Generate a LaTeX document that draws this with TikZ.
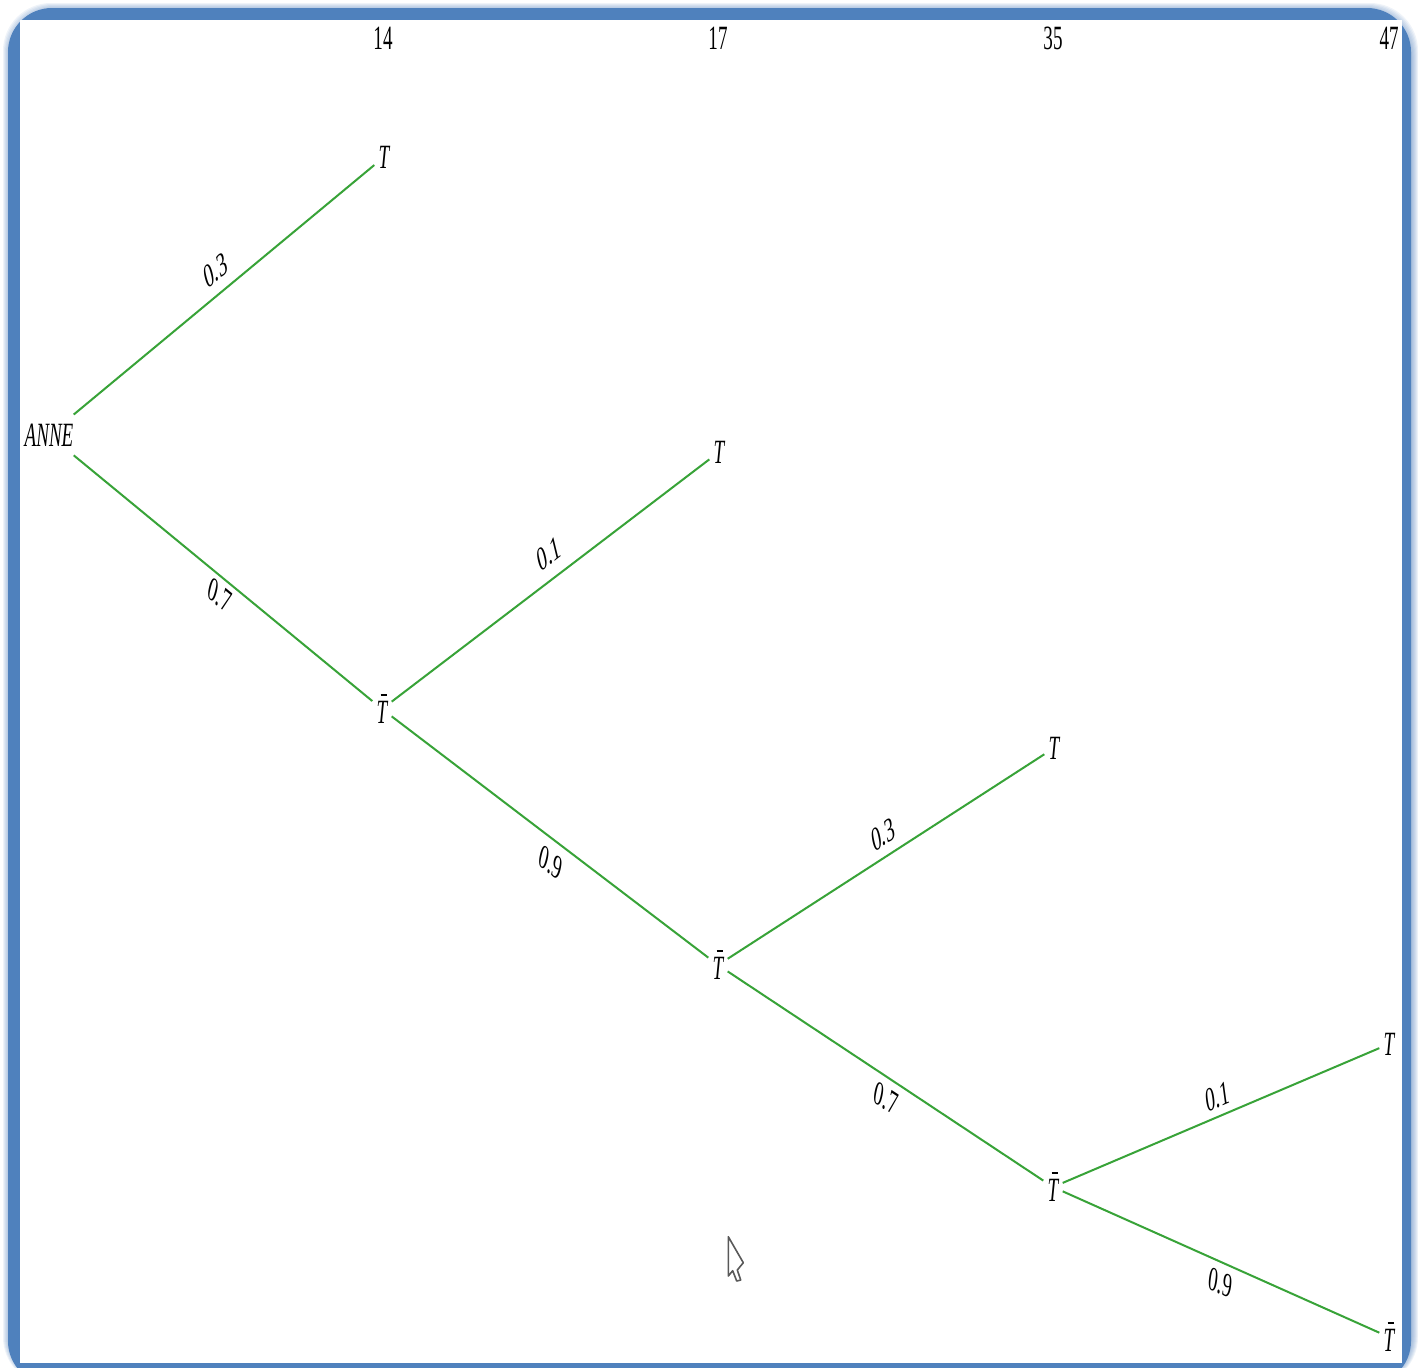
\documentclass[tikz,border=0pt]{standalone}
\usepackage{fontspec}
\setmainfont{Liberation Serif}
\usepackage{graphicx}
\definecolor{frameblue}{RGB}{79,129,189}
\definecolor{branchgreen}{RGB}{56,163,56}
\newcommand\sq[1]{\scalebox{0.56}[1]{#1}}
\newcommand\tbar{\sq{\itshape\rlap{\kern0.2em\raisebox{0.82em}{\rule{0.32em}{0.06em}}}T}}
\newcommand\tletter{\sq{\itshape T}}
\begin{document}
\begin{tikzpicture}[x=0.5pt,y=-0.5pt,
  txt/.style={inner sep=2pt, font=\fontsize{17pt}{20pt}\selectfont},
  branch/.style={draw=branchgreen, line width=1pt},
  lab/.style={midway, anchor=center, inner sep=0pt, font=\fontsize{9.5pt}{11pt}\selectfont}]
\useasboundingbox (0,0) rectangle (1418,1367);
\fill[white] (0,0) rectangle (1418,1367);
% frame with glow
\foreach \i in {1,...,7}{
  \fill[frameblue, opacity=0.09, rounded corners=24] (10-\i,10-\i) rectangle (1411+\i,1385);
}
\fill[frameblue, rounded corners=22] (8,8) rectangle (1411,1385);
\fill[white] (20,20) rectangle (1402,1363);
% headers
\node[txt] (h14) at (383,38) {\sq{14}};
\node[txt] (h17) at (718,38) {\sq{17}};
\node[txt] (h35) at (1053,38) {\sq{35}};
\node[txt] (h47) at (1389,38) {\sq{47}};
% tree nodes
\node[txt, inner xsep=0pt, inner ysep=5pt] (anne) at (49,435) {\sq{\itshape ANNE}};
\node[txt] (t1) at (384,157) {\tletter};
\node[txt] (b1) at (382,709) {\tbar};
\node[txt] (t2) at (719,452) {\tletter};
\node[txt] (b2) at (718,965) {\tbar};
\node[txt] (t3) at (1054,748) {\tletter};
\node[txt] (b3) at (1053,1187) {\tbar};
\node[txt] (t4) at (1389,1044) {\tletter};
\node[txt] (b4) at (1389,1337) {\tbar};
% branches with sheared labels
\draw[branch] (anne) -- node[lab, xshift=-4.25pt, yshift=9.75pt, yscale=1.79, rotate=24.9] (p1) {0.3} (t1);
\draw[branch] (anne) -- node[lab, xshift=-1.75pt, yshift=-8.75pt, yscale=1.79, rotate=-24.6] (p2) {0.7} (b1);
\draw[branch] (b1) -- node[lab, xshift=-0.75pt, yshift=13.25pt, yscale=1.79, rotate=23.6] (p3) {0.1} (t2);
\draw[branch] (b1) -- node[lab, xshift=0.5pt, yshift=-13pt, yscale=1.79, rotate=-22.8] (p4) {0.9} (b2);
\draw[branch] (b2) -- node[lab, xshift=-1.5pt, yshift=11pt, yscale=1.79, rotate=20.2] (p5) {0.3} (t3);
\draw[branch] (b2) -- node[lab, xshift=0.25pt, yshift=-11.25pt, yscale=1.79, rotate=-20.1] (p6) {0.7} (b3);
\draw[branch] (b3) -- node[lab, xshift=-1.75pt, yshift=9.5pt, yscale=1.79, rotate=13.8] (p7) {0.1} (t4);
\draw[branch] (b3) -- node[lab, xshift=-0.25pt, yshift=-10.25pt, yscale=1.79, rotate=-13.7] (p8) {0.9} (b4);
% mouse cursor
\draw[gray!70!black, fill=white, line width=0.8pt, line join=round]
  (728.3,1236.7) -- (728.3,1276) -- (732.7,1270.7) -- (736.7,1281) -- (740.7,1280)
  -- (737.3,1270) -- (743.3,1262.7) -- cycle;
\end{tikzpicture}
\end{document}
